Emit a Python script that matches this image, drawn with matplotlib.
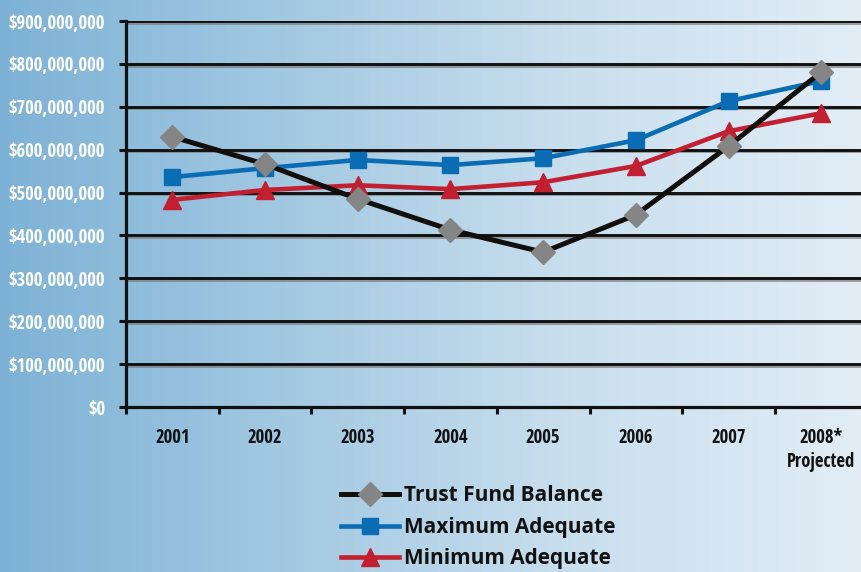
import numpy as np
import matplotlib
matplotlib.use("Agg")
import matplotlib.pyplot as plt
import matplotlib.patheffects as pe
from matplotlib.colors import LinearSegmentedColormap

COND = ['Open Sans Condensed', 'Open Sans', 'DejaVu Sans']
plt.rcParams['font.family'] = ['Open Sans', 'DejaVu Sans']

years = ["2001", "2002", "2003", "2004", "2005", "2006", "2007", "2008*\nProjected"]
trust_fund = [630, 566, 485, 413, 361, 448, 608, 781]      # $ millions
max_adequate = [536, 557, 576, 564, 580, 622, 713, 760]    # $ millions
min_adequate = [483, 506, 517, 508, 524, 562, 643, 685]    # $ millions
y_ticks = [0, 100, 200, 300, 400, 500, 600, 700, 800, 900]

fig = plt.figure(figsize=(8.62, 5.72), dpi=100)

# horizontal blue gradient background
bg = fig.add_axes([0, 0, 1, 1], zorder=-10)
grad = LinearSegmentedColormap.from_list("bg", ["#7db2d6", "#a3c9e2", "#c9dfee", "#e2edf6"])
bg.imshow(np.linspace(0, 1, 256).reshape(1, -1), aspect="auto", cmap=grad,
          extent=[0, 1, 0, 1])
bg.axis("off")

W, H = 862, 572
ax = fig.add_axes([126 / W, 1 - 407 / H, 741.6 / W, 386 / H])
ax.patch.set_alpha(0)

x = np.arange(len(years))
shadow = [pe.SimpleLineShadow(offset=(0, -1.2), shadow_color="#7a7a7a", alpha=0.7),
          pe.Normal()]
for v in y_ticks[1:]:
    ax.axhline(v, color="#111111", lw=2.1, zorder=1, path_effects=shadow)

ax.plot(x, max_adequate, color="#0a6cb3", lw=3.3, marker="s", ms=12,
        mfc="#0a6cb3", mec="#0a6cb3", zorder=3, label="Maximum Adequate")
ax.plot(x, min_adequate, color="#c21f30", lw=3.3, marker="^", ms=12.5,
        mfc="#c21f30", mec="#c21f30", zorder=3, label="Minimum Adequate")
ax.plot(x, trust_fund, color="#120e0a", lw=3.6, marker="D", ms=12,
        mfc="#858585", mec="#858585", zorder=4, label="Trust Fund Balance")

ax.set_xlim(-0.5, len(years) - 0.5)
ax.set_ylim(0, 900)
ax.set_yticks(y_ticks)
ax.set_yticklabels(["$0" if v == 0 else f"${v * 1_000_000:,}" for v in y_ticks],
                   color="white", fontweight="bold", fontsize=13.5, family=COND)
ax.set_xticks(x)
ax.set_xticklabels(years, fontweight="bold", fontsize=13.5, color="#111111",
                   family=COND, linespacing=1.3, va="top")
ax.set_xticks(np.arange(-0.5, len(years), 1.0), minor=True)
ax.tick_params(axis="x", which="major", length=0, pad=15)
ax.tick_params(axis="x", which="minor", length=5, width=2.2, color="#111111",
               direction="out")
ax.tick_params(axis="y", length=5, width=2.2, color="#111111", pad=10)

for s in ["top", "right"]:
    ax.spines[s].set_visible(False)
for s in ["left", "bottom"]:
    ax.spines[s].set_color("#111111")
    ax.spines[s].set_linewidth(2.3)

handles, labels = ax.get_legend_handles_labels()
order = [2, 0, 1]
leg = fig.legend([handles[i] for i in order], [labels[i] for i in order],
                 loc="upper left", bbox_to_anchor=(331 / W, 1 - 475 / H),
                 frameon=False, handlelength=2.75, handletextpad=0.25,
                 labelspacing=0.5, borderpad=0,
                 prop={"weight": "bold", "size": 15})
for t in leg.get_texts():
    t.set_color("#111111")

fig.savefig("out.png", dpi=100)
